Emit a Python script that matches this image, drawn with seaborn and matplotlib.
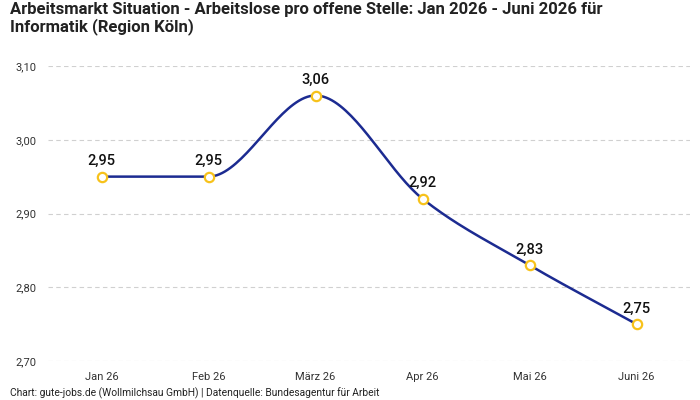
import numpy as np
import pandas as pd
import matplotlib
matplotlib.use("Agg")
import matplotlib.pyplot as plt
import seaborn as sns

# Daten
monate = ["Jan 26", "Feb 26", "März 26", "Apr 26", "Mai 26", "Juni 26"]
werte = [2.95, 2.95, 3.06, 2.92, 2.83, 2.75]
y_ticks = [2.70, 2.80, 2.90, 3.00, 3.10]

df = pd.DataFrame({"monat": monate, "wert": werte})
df["pos"] = range(len(df))


def monotone_kurve(x, y, n=40):
    # monotone kubische Interpolation (Fritsch-Carlson), wie bei Chart.js
    x = np.asarray(x, float)
    y = np.asarray(y, float)
    h = np.diff(x)
    d = np.diff(y) / h
    m = np.zeros_like(y)
    m[0], m[-1] = d[0], d[-1]
    for i in range(1, len(y) - 1):
        m[i] = 0 if d[i - 1] * d[i] <= 0 else (d[i - 1] + d[i]) / 2
    for i in range(len(d)):
        if d[i] == 0:
            m[i] = m[i + 1] = 0
            continue
        a, b = m[i] / d[i], m[i + 1] / d[i]
        s = a * a + b * b
        if s > 9:
            t = 3 / np.sqrt(s)
            m[i], m[i + 1] = t * a * d[i], t * b * d[i]
    xs, ys = [], []
    for i in range(len(d)):
        t = np.linspace(0, 1, n)
        h00 = 2 * t**3 - 3 * t**2 + 1
        h10 = t**3 - 2 * t**2 + t
        h01 = -2 * t**3 + 3 * t**2
        h11 = t**3 - t**2
        xs.extend(x[i] + t * h[i])
        ys.extend(h00 * y[i] + h10 * h[i] * m[i] + h01 * y[i + 1] + h11 * h[i] * m[i + 1])
    return np.array(xs), np.array(ys)


sns.set_style("white")
plt.rcParams["font.family"] = ["Roboto", "DejaVu Sans"]

fig = plt.figure(figsize=(7, 4), dpi=100)
ax = fig.add_axes([48 / 700, 39 / 400, 642 / 700, 295 / 400])

kx, ky = monotone_kurve(df["pos"], df["wert"])
kurve = pd.DataFrame({"x": kx, "y": ky})
sns.lineplot(data=kurve, x="x", y="y", color="#1c2b91", linewidth=1.8, ax=ax, zorder=3)
sns.scatterplot(data=df, x="pos", y="wert", s=45, facecolor="white",
                edgecolor="#f7c21b", linewidth=1.6, ax=ax, zorder=4)

for _, r in df.iterrows():
    ax.annotate(f"{r['wert']:.2f}".replace(".", ","), (r["pos"], r["wert"]),
                xytext=(0, 6), textcoords="offset points", ha="center", va="bottom",
                fontsize=10.5, fontweight="medium", color="#111111", zorder=5)

ax.set_xlim(-0.5, len(monate) - 0.5)
ax.set_ylim(2.70, 3.10)
ax.set_xticks(df["pos"])
ax.set_xticklabels(monate)
ax.set_yticks(y_ticks)
ax.set_yticklabels([f"{v:.2f}".replace(".", ",") for v in y_ticks])
ax.tick_params(axis="both", labelsize=8, colors="#333333", length=0, pad=8)
ax.set_xlabel("")
ax.set_ylabel("")
ax.grid(axis="y", color="#d0d0d0", linestyle=(0, (4, 3)), linewidth=0.8)
ax.set_axisbelow(True)
for s in ax.spines.values():
    s.set_visible(False)

fig.text(10 / 700, 1 - 2 / 400,
         "Arbeitsmarkt Situation - Arbeitslose pro offene Stelle: Jan 2026 - Juni 2026 für\nInformatik (Region Köln)",
         ha="left", va="top", fontsize=12, fontweight="bold", color="#222222", linespacing=1.1)
fig.text(10 / 700, 1 - 393 / 400,
         "Chart: gute-jobs.de (Wollmilchsau GmbH) | Datenquelle: Bundesagentur für Arbeit",
         ha="left", va="center", fontsize=7.4, color="#222222")

fig.savefig("out.png", dpi=100)
